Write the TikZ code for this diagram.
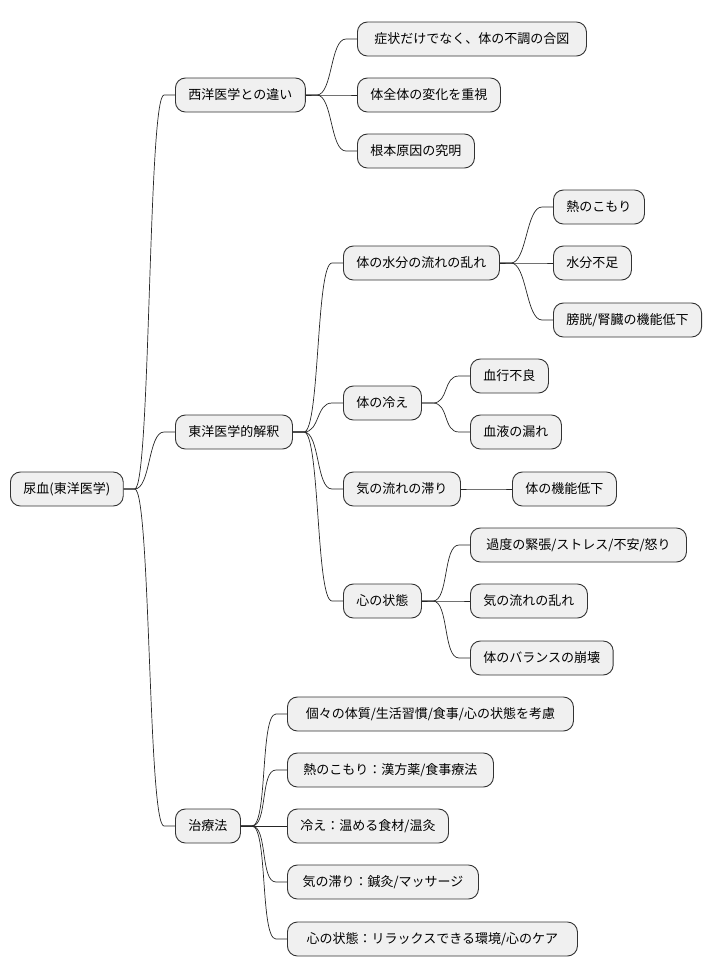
\documentclass[tikz,border=0pt]{standalone}
\usepackage{fontspec}
\setmainfont{Noto Sans CJK JP}
\tikzset{
  box/.style={draw=black!80, fill=black!6, line width=.9pt, rounded corners=10pt,
    minimum height=34pt, inner xsep=13pt, anchor=west, font=\fontsize{13}{15}\selectfont},
  link/.style={draw=black!85, line width=.7pt,
    to path={-- ++(11,0) .. controls +(16,0) and ([xshift=-27pt]\tikztotarget) .. ([xshift=-11pt]\tikztotarget) -- (\tikztotarget)}}
}
\begin{document}
\begin{tikzpicture}[x=1pt,y=-1pt]
  \useasboundingbox (0,0) rectangle (714,978);
  \node[box] (root) at (10,489) {尿血(東洋医学)};
  % 西洋医学
  \node[box] (seiyo) at (175,95) {西洋医学との違い};
  \node[box,minimum width=229pt] (s1) at (357,39) {症状だけでなく、体の不調の合図};
  \node[box] (s2) at (357,95) {体全体の変化を重視};
  \node[box] (s3) at (357,151) {根本原因の究明};
  % 東洋医学
  \node[box] (toyo) at (175,432) {東洋医学的解釈};
  \node[box] (mizu) at (343,263) {体の水分の流れの乱れ};
  \node[box] (m1) at (553,207) {熱のこもり};
  \node[box] (m2) at (553,263) {水分不足};
  \node[box] (m3) at (553,320) {膀胱/腎臓の機能低下};
  \node[box] (hie) at (343,403) {体の冷え};
  \node[box] (h1) at (470,376) {血行不良};
  \node[box] (h2) at (470,432) {血液の漏れ};
  \node[box] (ki) at (343,489) {気の流れの滞り};
  \node[box] (k1) at (512,489) {体の機能低下};
  \node[box] (kokoro) at (343,601) {心の状態};
  \node[box,minimum width=216pt] (c1) at (470,545) {過度の緊張/ストレス/不安/怒り};
  \node[box] (c2) at (470,601) {気の流れの乱れ};
  \node[box] (c3) at (470,658) {体のバランスの崩壊};
  % 治療法
  \node[box] (chiryo) at (175,826) {治療法};
  \node[box,minimum width=286pt] (t1) at (287,714) {個々の体質/生活習慣/食事/心の状態を考慮};
  \node[box,minimum width=206pt] (t2) at (287,770) {熱のこもり：漢方薬/食事療法};
  \node[box] (t3) at (287,826) {冷え：温める食材/温灸};
  \node[box,minimum width=191pt] (t4) at (287,882) {気の滞り：鍼灸/マッサージ};
  \node[box,minimum width=290pt] (t5) at (287,939) {心の状態：リラックスできる環境/心のケア};
  \foreach \a/\b in {root/seiyo, root/toyo, root/chiryo,
      seiyo/s1, seiyo/s2, seiyo/s3,
      toyo/mizu, toyo/hie, toyo/ki, toyo/kokoro,
      mizu/m1, mizu/m2, mizu/m3, hie/h1, hie/h2, ki/k1,
      kokoro/c1, kokoro/c2, kokoro/c3,
      chiryo/t1, chiryo/t2, chiryo/t3, chiryo/t4, chiryo/t5}
    \draw[link] (\a.east) to (\b.west);
\end{tikzpicture}
\end{document}
